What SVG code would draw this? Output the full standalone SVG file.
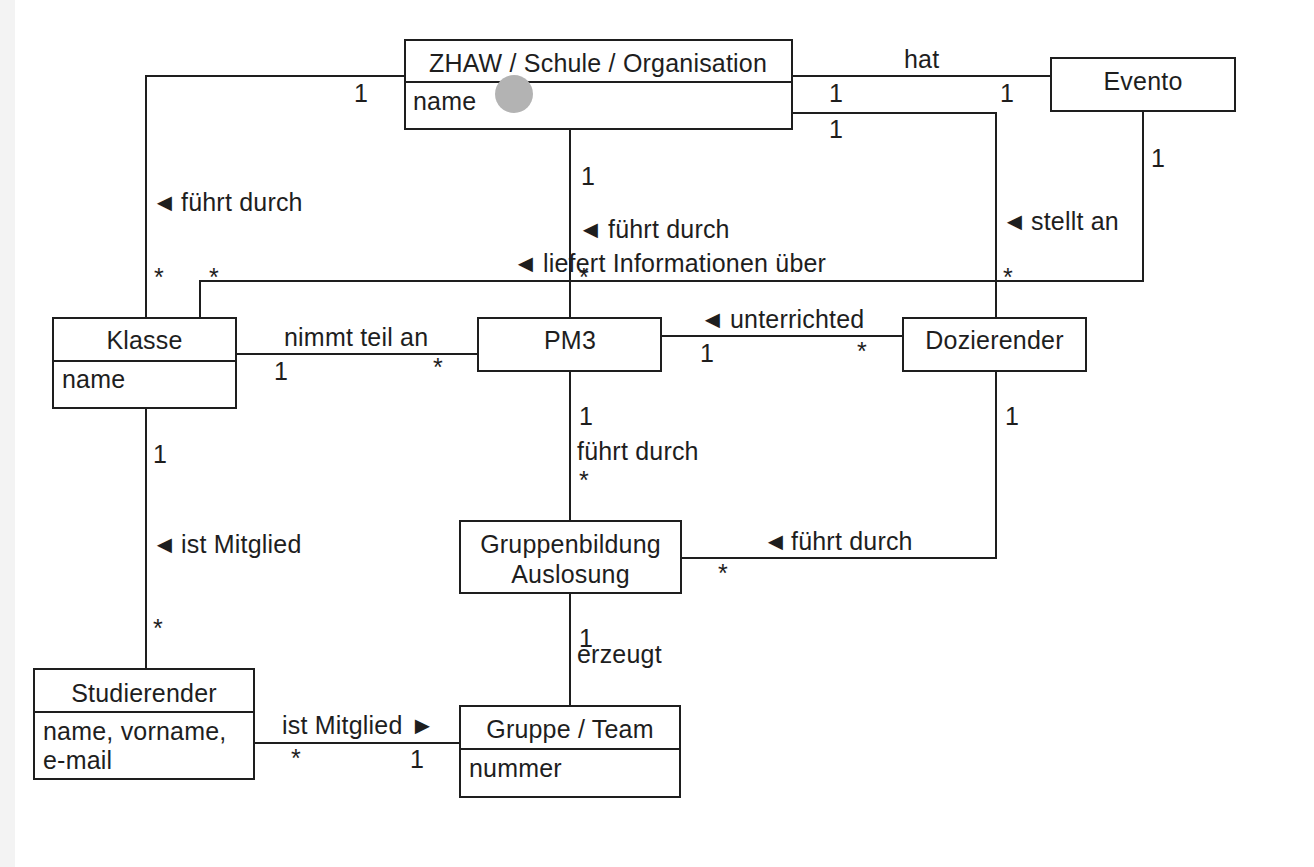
<svg xmlns="http://www.w3.org/2000/svg" width="1314" height="867" viewBox="0 0 1314 867">
<style>
.bx{fill:#fff;stroke:#1e1e1e;stroke-width:2}
.dv{stroke:#1e1e1e;stroke-width:2}
.cn{fill:none;stroke:#1e1e1e;stroke-width:2}
text{font-family:"Liberation Sans",Arial,sans-serif;font-size:25px;letter-spacing:0.2px;fill:#1e1e1e}
.c{text-anchor:middle}
.ar{font-size:25px;letter-spacing:0}
</style>
<rect x="0" y="0" width="1314" height="867" fill="#fff"/>
<rect x="0" y="0" width="15" height="867" fill="#f3f3f3"/>
<g id="connectors">
<polyline class="cn" points="405,76 146,76 146,318"/>
<polyline class="cn" points="200,318 200,281 1143,281 1143,111"/>
<polyline class="cn" points="570,129 570,318"/>
<polyline class="cn" points="792,76 1051,76"/>
<polyline class="cn" points="792,113 996,113 996,318"/>
<polyline class="cn" points="236,354 478,354"/>
<polyline class="cn" points="661,336 903,336"/>
<polyline class="cn" points="570,371 570,521"/>
<polyline class="cn" points="996,371 996,558 681,558"/>
<polyline class="cn" points="570,593 570,706"/>
<polyline class="cn" points="146,408 146,669"/>
<polyline class="cn" points="254,743 460,743"/>
<text x="354" y="102">1</text>
<text y="211"><tspan class="ar" x="152">◄</tspan><tspan x="181">führt durch</tspan></text>
<text x="154" y="286">*</text>
<text x="209" y="286">*</text>
<text x="581" y="185">1</text>
<text y="238"><tspan class="ar" x="578">◄</tspan><tspan x="608">führt durch</tspan></text>
<text y="272"><tspan class="ar" x="513">◄</tspan><tspan x="543">liefert Informationen über</tspan></text>
<text x="579" y="286">*</text>
<text x="904" y="68">hat</text>
<text x="829" y="102">1</text>
<text x="1000" y="102">1</text>
<text x="829" y="138">1</text>
<text x="1151" y="167">1</text>
<text y="230"><tspan class="ar" x="1002">◄</tspan><tspan x="1031">stellt an</tspan></text>
<text x="1003" y="286">*</text>
<text x="284" y="346">nimmt teil an</text>
<text x="274" y="380">1</text>
<text x="433" y="376">*</text>
<text y="328"><tspan class="ar" x="700">◄</tspan><tspan x="730">unterrichted</tspan></text>
<text x="700" y="362">1</text>
<text x="857" y="360">*</text>
<text x="579" y="425">1</text>
<text x="1005" y="425">1</text>
<text x="577" y="460">führt durch</text>
<text x="579" y="489">*</text>
<text x="153" y="463">1</text>
<text y="553"><tspan class="ar" x="152">◄</tspan><tspan x="181">ist Mitglied</tspan></text>
<text x="153" y="637">*</text>
<text y="550"><tspan class="ar" x="763">◄</tspan><tspan x="791">führt durch</tspan></text>
<text x="718" y="582">*</text>
<text x="579" y="647">1</text>
<text x="577" y="663">erzeugt</text>
<text y="734"><tspan x="282">ist Mitglied</tspan><tspan class="ar" x="410">►</tspan></text>
<text x="291" y="767">*</text>
<text x="410" y="768">1</text>
</g>
<g id="zhaw">
<rect class="bx" x="405" y="40" width="387" height="89"/>
<line class="dv" x1="405" y1="82" x2="792" y2="82"/>
<text class="c" x="598" y="72">ZHAW / Schule / Organisation</text>
<text x="413" y="110">name</text>
</g>
<circle cx="514" cy="94" r="19" fill="#b3b3b3"/>
<g id="evento">
<rect class="bx" x="1051" y="58" width="184" height="53"/>
<text class="c" x="1143" y="90">Evento</text>
</g>
<g id="klasse">
<rect class="bx" x="53" y="318" width="183" height="90"/>
<line class="dv" x1="53" y1="361" x2="236" y2="361"/>
<text class="c" x="144.5" y="349">Klasse</text>
<text x="62" y="388">name</text>
</g>
<g id="pm3">
<rect class="bx" x="478" y="318" width="183" height="53"/>
<text class="c" x="570" y="349">PM3</text>
</g>
<g id="dozierender">
<rect class="bx" x="903" y="318" width="183" height="53"/>
<text class="c" x="994.5" y="349">Dozierender</text>
</g>
<g id="gruppenbildung">
<rect class="bx" x="460" y="521" width="221" height="72"/>
<text class="c" x="570.5" y="553">Gruppenbildung</text>
<text class="c" x="570.5" y="583">Auslosung</text>
</g>
<g id="studierender">
<rect class="bx" x="34" y="669" width="220" height="110"/>
<line class="dv" x1="34" y1="712" x2="254" y2="712"/>
<text class="c" x="144" y="702">Studierender</text>
<text x="43" y="740">name, vorname,</text>
<text x="43" y="769">e-mail</text>
</g>
<g id="gruppe">
<rect class="bx" x="460" y="706" width="220" height="91"/>
<line class="dv" x1="460" y1="749" x2="680" y2="749"/>
<text class="c" x="570" y="738">Gruppe / Team</text>
<text x="469" y="777">nummer</text>
</g>
</svg>
